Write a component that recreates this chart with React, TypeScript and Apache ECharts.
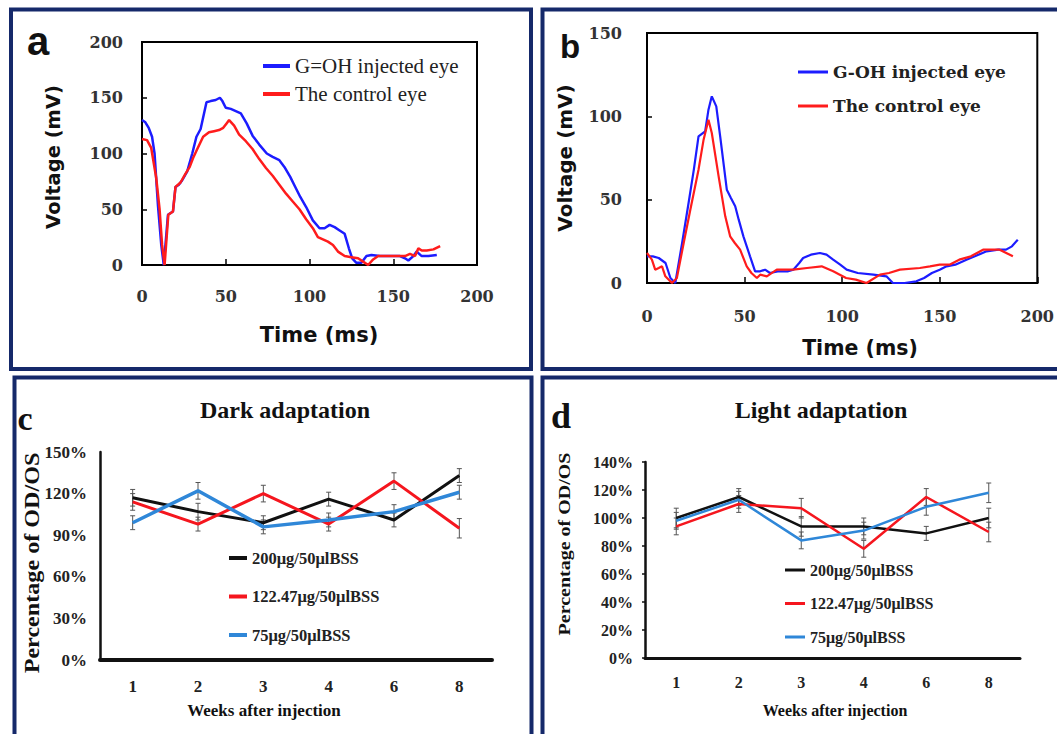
import React, { useEffect, useRef } from 'react';
import * as echarts from 'echarts';

// ---------- Panel a (Time ms, Voltage mV) ----------
const aBlueT = [0, 2, 4, 6, 7.5, 9.5, 11.5, 13, 15.5, 18.5, 20, 22, 24, 27, 30, 32.5, 35, 38.5, 41, 44, 46.5, 48, 50, 53, 56, 59, 62.5, 66, 70, 74.5, 78, 82, 85, 88.5, 91.5, 94.5, 98, 102, 106, 109, 112, 115, 118, 121, 123.5, 125.5, 128, 131, 134, 137, 142, 148, 154, 157, 159, 162, 164, 167, 171, 176];
const aBlueV = [130, 128, 123, 115, 100, 54, 18, 0, 45, 48, 70, 72, 76, 84, 100, 115, 122, 146, 147, 148, 150, 147, 141, 140, 138, 136, 127, 116, 108, 100, 97, 94, 88, 79, 70, 61, 52, 40, 33, 33, 36, 34, 31, 28, 15, 6, 2, 2, 8, 9, 8, 8, 8, 6, 4, 8, 12, 8, 8, 9];
const aRedT = [0, 3, 5.5, 8.5, 10.5, 12, 13.5, 15.7, 18.5, 20, 23, 26, 28.5, 30.5, 33, 36.5, 40, 43, 46, 48.5, 50.5, 52, 55, 58, 62, 66, 70, 74, 78, 82, 86, 90, 94, 98, 102, 105, 108, 111, 114, 117, 121, 125, 129, 132, 135, 138, 141, 146, 152, 157, 160, 163, 165, 167, 170, 174, 178];
const aRedV = [113, 112, 105, 78, 50, 18, 0, 45, 48, 70, 74, 82, 88, 96, 104, 115, 119, 120, 121, 123, 127, 130, 125, 117, 111, 104, 95, 87, 80, 72, 64, 57, 50, 41, 33, 25, 23, 21, 18, 12, 8, 7, 6, 3, 0, 5, 8, 8, 8, 8, 10, 8, 15, 13, 13, 14, 17];

// ---------- Panel b ----------
const bBlueT = [0, 3, 6, 9.5, 12, 14.5, 18, 21.3, 24, 26.4, 29.8, 31.5, 33.2, 35.5, 37.5, 40.9, 43, 45.2, 47, 49.4, 52.8, 55.4, 58, 60.5, 63, 67, 72, 75, 78, 80, 84, 88.6, 92, 95.4, 99, 102.3, 108, 116, 122.7, 126, 132, 138, 142, 146, 150, 153.5, 158, 163.7, 168, 174, 180, 184, 187, 190];
const bBlueV = [16, 16, 15, 12, 3, 0, 24, 48, 68, 88, 91, 104, 112, 106, 88, 56, 51, 46, 38, 28, 16, 7, 7, 8, 6, 7, 7, 8, 12, 15, 17, 18, 17, 14, 11, 8, 6, 5, 4, 0, 0, 1, 3, 6, 8, 10, 11, 14, 16, 19, 20, 20, 22, 26];
const bRedT = [0, 2.5, 4.2, 6, 7.7, 9.4, 12.8, 15.3, 18.8, 22.2, 26.4, 29, 31.5, 33.2, 36.7, 40.1, 42.6, 45, 47.7, 51.1, 53.5, 56.3, 58, 61.4, 66.5, 75, 82, 89.5, 95.4, 102, 107, 112.5, 119.4, 124, 129.6, 139.8, 145, 150, 155, 160, 166, 172.2, 180.7, 187.5];
const bRedV = [18, 14, 8, 9, 10, 4, 0, 3, 24, 44, 68, 86, 98, 90, 64, 40, 28, 24, 20, 10, 6, 3, 5, 4, 8, 8, 9, 10, 7, 3, 2, 0, 5, 6, 8, 9, 10, 11, 11, 14, 16, 20, 20, 16];

// ---------- Panels c / d ----------
const weeks = ['1', '2', '3', '4', '6', '8'];
const seriesNames = ['200μg/50μlBSS', '122.47μg/50μlBSS', '75μg/50μlBSS'];
const cBlack = [117, 107, 99, 116, 101, 133];
const cRed = [114, 98, 120, 98, 129, 95];
const cBlue = [99, 122, 96, 101, 107, 121];
const cBlackErr = [6, 6, 5, 5, 5, 5];
const cRedErr = [6, 5, 6, 5, 6, 7];
const cBlueErr = [5, 6, 5, 5, 5, 5];
const dBlack = [100, 115, 94, 94, 89, 100];
const dRed = [94, 110, 107, 78, 115, 90];
const dBlue = [98, 113, 84, 91, 108, 118];
const dBlackErr = [7, 6, 7, 6, 5, 7];
const dRedErr = [6, 6, 7, 6, 6, 7];
const dBlueErr = [6, 6, 6, 6, 6, 7];

const SERIF = '"Liberation Serif", "Times New Roman", serif';
const DSERIF = '"DejaVu Serif", serif';
const DSANS = '"DejaVu Sans", sans-serif';
const LSANS = '"Liberation Sans", Arial, sans-serif';
const NAVY = '#15296a';
const BLUE = '#1c1cff';
const RED = '#ff1c1c';
const CBLACK = '#111111';
const CRED = '#f5161e';
const CBLUE = '#2f87d8';

const pairs = (t: number[], v: number[]) => t.map((x, i) => [x, v[i]]);
const errData = (v: number[], e: number[]) => v.map((y, i) => [i, y, e[i]]);

const errRender = (params: any, api: any) => {
  const xi = api.value(0);
  const v = api.value(1);
  const e = api.value(2);
  const p1 = api.coord([xi, v + e]);
  const p2 = api.coord([xi, v - e]);
  const hw = 2.5;
  const st = { stroke: '#555', lineWidth: 1 };
  return {
    type: 'group',
    children: [
      { type: 'line', shape: { x1: p1[0], y1: p1[1], x2: p2[0], y2: p2[1] }, style: st },
      { type: 'line', shape: { x1: p1[0] - hw, y1: p1[1], x2: p1[0] + hw, y2: p1[1] }, style: st },
      { type: 'line', shape: { x1: p2[0] - hw, y1: p2[1], x2: p2[0] + hw, y2: p2[1] }, style: st },
    ],
  };
};

const txt = (text: string, x: number, y: number, size: number, family: string, weight: string, extra: any = {}) => ({
  type: 'text',
  x,
  y,
  ...extra,
  style: { text, fontSize: size, fontFamily: family, fontWeight: weight, fill: '#111', align: 'center', verticalAlign: 'middle' },
});

const frameRect = (x: number, y: number, w: number, h: number) => ({
  type: 'rect',
  shape: { x, y, width: w, height: h },
  style: { fill: 'none', stroke: NAVY, lineWidth: 4 },
});

export default function App() {
  const ref = useRef<HTMLDivElement>(null);
  useEffect(() => {
    if (!ref.current) return;
    const chart = echarts.init(ref.current, undefined, { renderer: 'svg' });

    const abTickLabel = { fontFamily: DSERIF, fontWeight: 'bold', fontSize: 16, color: '#333' };
    const cdLabel = (size: number) => ({ fontFamily: SERIF, fontWeight: 'bold', fontSize: size, color: '#222' });

    const option: any = {
      animation: false,
      backgroundColor: '#fff',
      grid: [
        { left: 142, top: 42, width: 335, height: 223, show: true, borderColor: '#000', borderWidth: 2 },
        { left: 647, top: 33, width: 391, height: 250, show: true, borderColor: '#000', borderWidth: 2 },
        { left: 100, top: 452, width: 392, height: 208 },
        { left: 645, top: 462, width: 375, height: 196 },
      ],
      xAxis: [
        {
          gridIndex: 0, type: 'value', min: 0, max: 200, interval: 50,
          axisLine: { lineStyle: { color: '#000', width: 2 } },
          axisTick: { inside: true, length: 6, lineStyle: { color: '#000', width: 1.5 } },
          splitLine: { show: false },
          axisLabel: { ...abTickLabel, margin: 23 },
        },
        {
          gridIndex: 1, type: 'value', min: 0, max: 200, interval: 50,
          axisLine: { lineStyle: { color: '#000', width: 2 } },
          axisTick: { inside: true, length: 6, lineStyle: { color: '#000', width: 1.5 } },
          splitLine: { show: false },
          axisLabel: { ...abTickLabel, margin: 25 },
        },
        {
          gridIndex: 2, type: 'category', data: weeks, boundaryGap: true,
          axisLine: { lineStyle: { color: '#111', width: 4 } },
          axisTick: { show: false },
          axisLabel: { ...cdLabel(17), margin: 18 },
        },
        {
          gridIndex: 3, type: 'category', data: weeks, boundaryGap: true,
          axisLine: { lineStyle: { color: '#111', width: 3 } },
          axisTick: { show: false },
          axisLabel: { ...cdLabel(16), margin: 16 },
        },
      ],
      yAxis: [
        {
          gridIndex: 0, type: 'value', min: 0, max: 200, interval: 50,
          axisLine: { show: true, lineStyle: { color: '#000', width: 2 } },
          axisTick: { show: true, inside: true, length: 5, lineStyle: { color: '#000', width: 1.5 } },
          splitLine: { show: false },
          axisLabel: { ...abTickLabel, margin: 19 },
        },
        {
          gridIndex: 1, type: 'value', min: 0, max: 150, interval: 50,
          axisLine: { show: true, lineStyle: { color: '#000', width: 2 } },
          axisTick: { show: true, inside: true, length: 5, lineStyle: { color: '#000', width: 1.5 } },
          splitLine: { show: false },
          axisLabel: { ...abTickLabel, margin: 25 },
        },
        {
          gridIndex: 2, type: 'value', min: 0, max: 150, interval: 30,
          axisLine: { show: true, lineStyle: { color: '#111', width: 2.5 } },
          axisTick: { show: false },
          splitLine: { show: false },
          axisLabel: { ...cdLabel(17), margin: 13, formatter: '{value}%' },
        },
        {
          gridIndex: 3, type: 'value', min: 0, max: 140, interval: 20,
          axisLine: { show: true, lineStyle: { color: '#111', width: 2.5 } },
          axisTick: { show: true, length: 3, lineStyle: { color: '#111', width: 1.5 } },
          splitLine: { show: false },
          axisLabel: { ...cdLabel(16), margin: 12, formatter: '{value}%' },
        },
      ],
      legend: [
        {
          left: 263, top: 55, padding: 0, orient: 'vertical', icon: 'rect', itemWidth: 27, itemHeight: 4, itemGap: 6,
          data: ['G=OH injected eye', 'The control eye'],
          textStyle: { fontFamily: SERIF, fontSize: 21, color: '#222', lineHeight: 22 },
        },
        {
          left: 798, top: 62, padding: 0, orient: 'vertical', icon: 'rect', itemWidth: 30, itemHeight: 3, itemGap: 14,
          data: ['G-OH injected eye', 'The control eye '],
          textStyle: { fontFamily: DSERIF, fontWeight: 'bold', fontSize: 17, color: '#222', lineHeight: 20 },
        },
        {
          left: 229, top: 548, padding: 0, orient: 'vertical', icon: 'rect', itemWidth: 18, itemHeight: 4, itemGap: 18.5,
          data: seriesNames,
          textStyle: { fontFamily: SERIF, fontWeight: 'bold', fontSize: 16.5, color: '#222', lineHeight: 20 },
        },
        {
          left: 785, top: 560, padding: 0, orient: 'vertical', icon: 'rect', itemWidth: 20, itemHeight: 3, itemGap: 13.5,
          data: seriesNames.map((n) => n + ' '),
          textStyle: { fontFamily: SERIF, fontWeight: 'bold', fontSize: 16, color: '#222', lineHeight: 20 },
        },
      ],
      series: [
        // panel a
        { type: 'line', name: 'G=OH injected eye', xAxisIndex: 0, yAxisIndex: 0, data: pairs(aBlueT, aBlueV), showSymbol: false, lineStyle: { color: BLUE, width: 2.5 }, itemStyle: { color: BLUE } },
        { type: 'line', name: 'The control eye', xAxisIndex: 0, yAxisIndex: 0, data: pairs(aRedT, aRedV), showSymbol: false, lineStyle: { color: RED, width: 2.5 }, itemStyle: { color: RED } },
        // panel b
        { type: 'line', name: 'G-OH injected eye', xAxisIndex: 1, yAxisIndex: 1, data: pairs(bBlueT, bBlueV), showSymbol: false, lineStyle: { color: BLUE, width: 2.2 }, itemStyle: { color: BLUE } },
        { type: 'line', name: 'The control eye ', xAxisIndex: 1, yAxisIndex: 1, data: pairs(bRedT, bRedV), showSymbol: false, lineStyle: { color: RED, width: 2.2 }, itemStyle: { color: RED } },
        // panel c error bars
        { type: 'custom', xAxisIndex: 2, yAxisIndex: 2, renderItem: errRender, data: errData(cBlack, cBlackErr), z: 1, silent: true },
        { type: 'custom', xAxisIndex: 2, yAxisIndex: 2, renderItem: errRender, data: errData(cRed, cRedErr), z: 1, silent: true },
        { type: 'custom', xAxisIndex: 2, yAxisIndex: 2, renderItem: errRender, data: errData(cBlue, cBlueErr), z: 1, silent: true },
        // panel c lines
        { type: 'line', name: seriesNames[0], xAxisIndex: 2, yAxisIndex: 2, data: cBlack, showSymbol: false, lineStyle: { color: CBLACK, width: 3 }, itemStyle: { color: CBLACK }, z: 3 },
        { type: 'line', name: seriesNames[1], xAxisIndex: 2, yAxisIndex: 2, data: cRed, showSymbol: false, lineStyle: { color: CRED, width: 3 }, itemStyle: { color: CRED }, z: 3 },
        { type: 'line', name: seriesNames[2], xAxisIndex: 2, yAxisIndex: 2, data: cBlue, showSymbol: false, lineStyle: { color: CBLUE, width: 3.5 }, itemStyle: { color: CBLUE }, z: 3 },
        // panel d error bars
        { type: 'custom', xAxisIndex: 3, yAxisIndex: 3, renderItem: errRender, data: errData(dBlack, dBlackErr), z: 1, silent: true },
        { type: 'custom', xAxisIndex: 3, yAxisIndex: 3, renderItem: errRender, data: errData(dRed, dRedErr), z: 1, silent: true },
        { type: 'custom', xAxisIndex: 3, yAxisIndex: 3, renderItem: errRender, data: errData(dBlue, dBlueErr), z: 1, silent: true },
        // panel d lines
        { type: 'line', name: seriesNames[0] + ' ', xAxisIndex: 3, yAxisIndex: 3, data: dBlack, showSymbol: false, lineStyle: { color: CBLACK, width: 2.5 }, itemStyle: { color: CBLACK }, z: 3 },
        { type: 'line', name: seriesNames[1] + ' ', xAxisIndex: 3, yAxisIndex: 3, data: dRed, showSymbol: false, lineStyle: { color: CRED, width: 2.5 }, itemStyle: { color: CRED }, z: 3 },
        { type: 'line', name: seriesNames[2] + ' ', xAxisIndex: 3, yAxisIndex: 3, data: dBlue, showSymbol: false, lineStyle: { color: CBLUE, width: 2.5 }, itemStyle: { color: CBLUE }, z: 3 },
      ],
      graphic: [
        frameRect(11, 9.5, 520, 359.5),
        frameRect(542.5, 9.5, 530, 359.5),
        frameRect(14.5, 377.5, 517, 370),
        frameRect(542.5, 377.5, 530, 370),
        // panel letters
        txt('a', 38, 41, 40, LSANS, 'bold'),
        txt('b', 570, 46, 33, LSANS, 'bold'),
        txt('c', 25, 418, 34, SERIF, 'bold'),
        txt('d', 561, 416, 36, SERIF, 'bold'),
        // axis titles a/b
        txt('Time (ms)', 319, 335, 21, DSANS, 'bold'),
        txt('Voltage (mV)', 53, 157, 19.5, DSANS, 'bold', { rotation: Math.PI / 2 }),
        txt('Time (ms)', 860, 348, 20.5, DSANS, 'bold'),
        txt('Voltage (mV)', 565, 158, 20, DSANS, 'bold', { rotation: Math.PI / 2 }),
        // c/d titles
        txt('Dark adaptation', 285, 410, 24, SERIF, 'bold'),
        txt('Light adaptation', 821, 410, 24, SERIF, 'bold'),
        txt('Weeks after injection', 264, 710, 17, SERIF, 'bold'),
        txt('Weeks after injection', 835, 710, 16, SERIF, 'bold'),
        txt('Percentage of OD/OS', 32, 563, 21, SERIF, 'bold', { rotation: Math.PI / 2, scaleX: 1.15 }),
        txt('Percentage of OD/OS', 565, 544, 16, SERIF, 'bold', { rotation: Math.PI / 2, scaleX: 1.25 }),
      ],
    };
    chart.setOption(option);
    return () => chart.dispose();
  }, []);

  return (
    <div
      ref={ref}
      style={{ position: 'fixed', left: 0, top: 0, width: 1057, height: 734, background: '#fff' }}
    />
  );
}
